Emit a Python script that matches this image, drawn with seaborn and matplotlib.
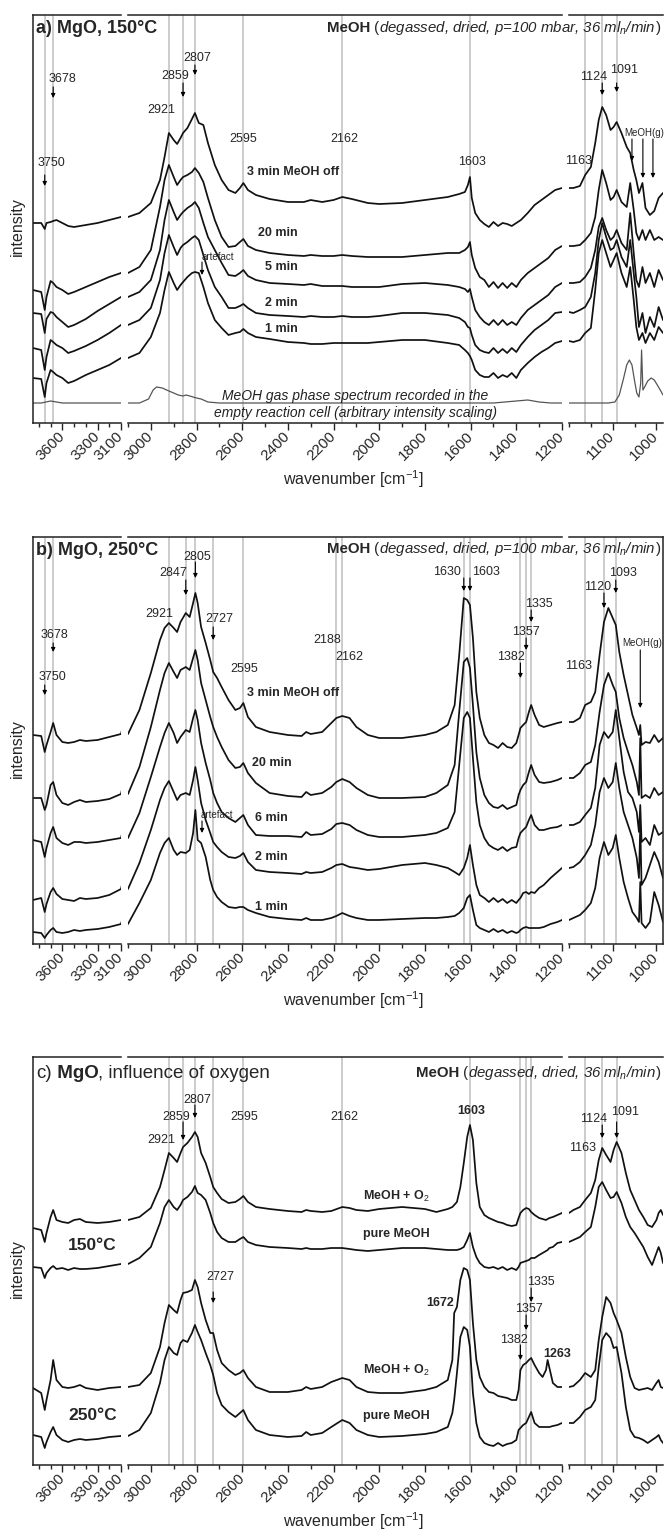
import matplotlib
matplotlib.use("Agg")
import matplotlib.pyplot as plt
import seaborn as sns
import pandas as pd

sns.set_style("ticks")
plt.rcParams['font.family'] = ['Liberation Sans', 'DejaVu Sans']
plt.rcParams['mathtext.fontset'] = 'custom'
plt.rcParams['mathtext.rm'] = 'Liberation Sans'
plt.rcParams['mathtext.it'] = 'Liberation Sans:italic'
plt.rcParams['mathtext.bf'] = 'Liberation Sans:bold'

# ---------------- data (intensity in arbitrary units) ----------------

# panel a: MgO 150 C
wn_a = ([3850, 3780, 3750, 3735, 3700, 3678, 3650, 3600, 3550, 3500, 3400, 3300, 3200, 3100]
        + [3050, 3000, 2960, 2940, 2921, 2900, 2885, 2870, 2859, 2840, 2820, 2807, 2790, 2770, 2750,
           2720, 2690, 2660, 2630, 2610, 2595, 2575, 2540, 2480, 2400, 2330, 2300, 2250, 2200]
        + [2162, 2120, 2050, 2000, 1900, 1800, 1700, 1650, 1625, 1612, 1603, 1595, 1580, 1560, 1540,
           1520, 1500, 1480, 1460, 1440, 1420, 1400, 1380, 1350, 1320, 1290, 1260, 1230, 1200]
        + [1190, 1175, 1163, 1150, 1140, 1132, 1124, 1115, 1105, 1098, 1091, 1080, 1068, 1060, 1052,
           1046, 1040, 1032, 1025, 1015, 1005, 995, 985])

a_off = ([200, 200, 194, 200, 201, 202, 203, 200, 197, 196, 198, 200, 203, 206]
         + [210, 220, 243, 266, 290, 283, 279, 285, 290, 295, 304, 310, 300, 298, 280,
            258, 243, 233, 230, 235, 240, 233, 228, 224, 221, 221, 223, 221, 223]
         + [226, 224, 220, 219, 220, 223, 226, 229, 231, 238, 246, 225, 210, 203, 199,
            196, 201, 197, 200, 199, 197, 200, 203, 210, 218, 223, 228, 233, 235]
         + [235, 237, 248, 256, 280, 303, 316, 308, 293, 296, 301, 290, 276, 270, 253,
            243, 230, 240, 215, 208, 212, 225, 230])
a_20 = ([133, 131, 113, 126, 142, 140, 136, 133, 129, 131, 136, 141, 146, 150]
        + [156, 173, 216, 243, 258, 246, 238, 243, 246, 248, 251, 255, 250, 241, 225,
           203, 186, 176, 177, 181, 184, 177, 173, 170, 168, 167, 168, 167, 167]
        + [168, 167, 166, 166, 166, 168, 170, 170, 173, 176, 181, 168, 155, 146, 143,
           136, 141, 135, 140, 135, 140, 136, 143, 150, 155, 160, 165, 173, 177]
        + [177, 178, 183, 190, 206, 233, 253, 240, 223, 226, 233, 221, 216, 240, 213,
           190, 183, 193, 183, 193, 183, 186, 183])
a_5 = ([110, 109, 90, 104, 111, 110, 106, 101, 96, 98, 104, 112, 119, 126]
       + [131, 143, 173, 203, 223, 211, 203, 208, 211, 215, 218, 221, 215, 200, 186,
          173, 160, 148, 147, 150, 153, 147, 143, 140, 139, 138, 139, 137, 137]
       + [137, 136, 136, 136, 139, 140, 138, 136, 134, 131, 134, 126, 113, 106, 101,
          98, 103, 98, 103, 98, 101, 98, 105, 113, 118, 123, 128, 136, 140]
       + [140, 141, 146, 155, 173, 196, 205, 193, 183, 186, 193, 180, 173, 210, 170,
          143, 136, 156, 140, 150, 136, 153, 143])
a_2 = ([75, 73, 53, 66, 83, 81, 78, 75, 70, 72, 77, 83, 90, 98]
       + [103, 115, 143, 170, 188, 176, 168, 175, 178, 181, 185, 187, 183, 168, 153,
          136, 126, 115, 115, 117, 119, 115, 110, 108, 107, 106, 107, 106, 106]
       + [107, 106, 106, 107, 110, 110, 108, 105, 101, 96, 95, 88, 78, 73, 71,
          70, 75, 70, 74, 70, 75, 71, 78, 86, 93, 98, 103, 110, 111]
       + [110, 113, 116, 126, 150, 183, 200, 186, 173, 175, 183, 166, 156, 183, 150,
          126, 96, 110, 90, 106, 96, 116, 103])
a_1 = ([45, 44, 26, 40, 53, 51, 48, 45, 40, 42, 48, 53, 58, 65]
       + [70, 86, 110, 133, 151, 140, 133, 138, 141, 146, 150, 151, 150, 136, 120,
          103, 95, 88, 90, 91, 94, 90, 86, 84, 81, 80, 79, 79, 80]
       + [80, 80, 80, 81, 83, 83, 80, 78, 73, 70, 67, 63, 53, 48, 46,
          46, 50, 45, 48, 46, 50, 45, 53, 60, 66, 71, 75, 80, 82]
       + [81, 83, 90, 95, 133, 170, 183, 170, 156, 163, 170, 150, 136, 156, 123,
          96, 83, 90, 80, 90, 83, 96, 90])

# MeOH gas phase spectrum (panel a)
wn_gas = [3850, 3780, 3700, 3600, 3500, 3400, 3300, 3200, 3100, 3050, 3010, 2990, 2975, 2950, 2921,
          2900, 2880, 2860, 2845, 2830, 2815, 2800, 2780, 2750, 2700, 2600, 2400, 2000, 1700, 1500,
          1450, 1400, 1350, 1300, 1250, 1200, 1150, 1110, 1095, 1085, 1075, 1068, 1062, 1056, 1050,
          1045, 1040, 1036, 1034, 1031, 1027, 1020, 1012, 1005, 998, 990, 985]
a_gas = [20, 20, 22, 20, 20, 20, 20, 20, 20, 20, 24, 33, 36, 35, 32,
         30, 28, 27, 28, 27, 26, 25, 24, 21, 20, 20, 20, 20, 20, 20,
         21, 22, 23, 21, 20, 20, 20, 20, 21, 28, 45, 58, 63, 58, 42,
         30, 26, 40, 73, 33, 36, 42, 45, 43, 38, 32, 28]

# panel b: MgO 250 C
wn_b = ([3850, 3780, 3750, 3735, 3700, 3678, 3650, 3600, 3550, 3500, 3450, 3400, 3300, 3200, 3100]
        + [3050, 3000, 2960, 2940, 2921, 2900, 2885, 2870, 2847, 2830, 2815, 2805, 2795, 2780, 2760,
           2740, 2727, 2710, 2690, 2660, 2630, 2610, 2595, 2575, 2540, 2480, 2400, 2340, 2320, 2300,
           2250, 2210, 2188]
        + [2162, 2130, 2100, 2050, 2000, 1900, 1800, 1750, 1700, 1670, 1650, 1630, 1615, 1603, 1590,
           1575, 1560, 1540, 1520, 1500, 1480, 1460, 1440, 1420, 1400, 1390, 1382, 1370, 1357, 1345,
           1335, 1320, 1300, 1280, 1250, 1220, 1200]
        + [1190, 1175, 1163, 1150, 1140, 1130, 1120, 1110, 1100, 1093, 1085, 1075, 1065, 1055, 1045,
           1040, 1037, 1034, 1025, 1015, 1005, 995, 985])

b_off = ([209, 208, 192, 199, 212, 221, 209, 202, 201, 202, 204, 203, 204, 207, 210]
         + [234, 271, 304, 316, 321, 316, 312, 322, 331, 327, 341, 351, 341, 317, 301,
            284, 272, 266, 257, 244, 234, 236, 241, 227, 217, 212, 209, 208, 212, 210,
            212, 221, 226]
         + [228, 226, 217, 209, 206, 206, 209, 212, 219, 239, 289, 346, 344, 339, 306,
            252, 226, 209, 201, 199, 196, 201, 197, 196, 201, 209, 216, 219, 222, 232,
            239, 229, 219, 217, 219, 221, 222]
         + [222, 226, 239, 242, 252, 289, 322, 336, 326, 319, 292, 269, 249, 229, 216,
            209, 219, 199, 202, 201, 209, 202, 206])
b_20 = ([146, 146, 134, 139, 159, 162, 149, 141, 139, 142, 144, 142, 143, 145, 150]
        + [177, 217, 254, 271, 281, 272, 266, 274, 277, 274, 286, 294, 284, 261, 244,
           227, 217, 207, 197, 184, 176, 177, 181, 171, 161, 151, 148, 147, 152, 149,
           151, 157, 162]
        + [165, 162, 156, 149, 146, 146, 147, 151, 159, 179, 232, 282, 286, 276, 239,
           192, 166, 149, 141, 137, 136, 139, 135, 137, 139, 149, 154, 159, 162, 172,
           179, 169, 162, 161, 162, 164, 166]
        + [166, 171, 179, 182, 199, 232, 259, 271, 259, 252, 226, 206, 192, 179, 162,
           149, 206, 146, 149, 146, 156, 149, 152])
b_6 = ([104, 102, 87, 96, 111, 117, 106, 101, 99, 102, 102, 101, 102, 104, 106]
       + [131, 167, 197, 211, 221, 211, 201, 207, 214, 212, 226, 234, 224, 201, 181,
          164, 151, 141, 132, 126, 122, 126, 129, 119, 109, 108, 108, 107, 112, 109,
          110, 115, 120]
       + [121, 119, 114, 109, 107, 107, 109, 111, 116, 132, 179, 226, 232, 226, 186,
          142, 119, 106, 99, 96, 94, 97, 93, 96, 97, 106, 111, 114, 117, 124,
          129, 119, 114, 114, 116, 117, 119]
       + [119, 122, 129, 136, 156, 199, 212, 206, 212, 234, 206, 172, 152, 146, 132,
          112, 139, 102, 106, 99, 119, 109, 112])
b_2 = ([44, 46, 32, 40, 52, 56, 50, 45, 44, 43, 46, 45, 46, 49, 55]
       + [81, 114, 144, 156, 163, 152, 144, 149, 151, 149, 164, 177, 164, 141, 124,
          111, 102, 97, 92, 87, 86, 88, 91, 82, 74, 72, 71, 70, 72, 71,
          72, 76, 79]
       + [80, 77, 76, 74, 75, 79, 81, 79, 76, 72, 69, 76, 86, 99, 79,
          59, 49, 46, 42, 46, 42, 45, 41, 44, 41, 44, 46, 51, 52, 50,
          52, 51, 56, 59, 66, 72, 76]
       + [77, 82, 89, 99, 119, 152, 166, 156, 162, 181, 156, 132, 119, 106, 86,
          66, 119, 59, 66, 79, 92, 82, 66])
b_1 = ([12, 11, 6, 9, 14, 16, 12, 11, 12, 14, 13, 14, 15, 17, 20]
       + [41, 64, 91, 101, 106, 94, 89, 92, 91, 94, 111, 134, 104, 101, 87,
          64, 54, 47, 42, 37, 36, 37, 37, 34, 31, 27, 25, 24, 26, 24,
          24, 26, 28]
       + [31, 28, 26, 24, 24, 25, 26, 26, 27, 28, 31, 36, 46, 49, 34,
          19, 16, 14, 12, 15, 12, 14, 11, 13, 11, 12, 14, 16, 17, 16,
          16, 16, 16, 17, 20, 22, 24]
       + [26, 29, 34, 41, 56, 86, 102, 89, 96, 109, 86, 62, 46, 32, 26,
          22, 62, 21, 16, 22, 52, 39, 22])

# panel c: influence of oxygen
wn_c = ([3850, 3780, 3750, 3735, 3700, 3678, 3650, 3600, 3550, 3500, 3450, 3400, 3300, 3200, 3100]
        + [3050, 3000, 2960, 2940, 2921, 2900, 2885, 2870, 2859, 2840, 2820, 2807, 2795, 2780, 2760,
           2740, 2727, 2710, 2690, 2660, 2630, 2610, 2595, 2575, 2540, 2480, 2400, 2340, 2320, 2300,
           2250, 2210]
        + [2162, 2130, 2100, 2050, 2000, 1900, 1800, 1750, 1700, 1680, 1672, 1660, 1645, 1630, 1615,
           1603, 1590, 1575, 1560, 1540, 1520, 1500, 1480, 1460, 1440, 1420, 1400, 1390, 1382, 1370,
           1357, 1345, 1335, 1320, 1300, 1285, 1270, 1263, 1255, 1240, 1220, 1200]
        + [1190, 1175, 1163, 1150, 1140, 1132, 1124, 1115, 1105, 1098, 1091, 1080, 1070, 1060, 1050,
           1040, 1030, 1020, 1010, 1000, 995, 990, 985])

c_150_o2 = ([237, 235, 223, 232, 248, 255, 245, 243, 242, 245, 246, 243, 242, 243, 245]
            + [248, 257, 278, 295, 312, 307, 303, 312, 318, 322, 328, 333, 328, 312, 302,
               288, 278, 272, 266, 262, 263, 266, 269, 263, 258, 256, 254, 253, 255, 254,
               253, 254]
            + [258, 257, 255, 254, 256, 258, 256, 253, 256, 258, 260, 263, 278, 302, 328,
               340, 325, 282, 258, 250, 247, 245, 243, 242, 240, 239, 240, 247, 252, 255,
               257, 256, 253, 250, 247, 246, 245, 246, 247, 248, 250, 252]
            + [255, 258, 265, 272, 285, 305, 317, 310, 303, 315, 323, 312, 292, 275, 265,
               255, 248, 240, 238, 245, 252, 255, 250])
c_150_pure = ([198, 197, 187, 192, 197, 199, 196, 197, 195, 197, 196, 196, 197, 199, 201]
              + [207, 218, 242, 258, 265, 258, 255, 260, 265, 268, 273, 279, 272, 270, 265,
                 252, 242, 233, 227, 223, 223, 226, 228, 223, 220, 218, 217, 216, 217, 216,
                 216, 217]
              + [217, 216, 215, 214, 215, 217, 217, 216, 215, 215, 215, 215, 216, 218, 225,
                 232, 218, 208, 202, 198, 197, 198, 196, 198, 195, 197, 195, 198, 202, 203,
                 204, 205, 207, 207, 210, 212, 214, 215, 217, 218, 222, 223]
              + [225, 228, 233, 238, 258, 278, 283, 275, 267, 268, 273, 262, 248, 238, 232,
                 225, 218, 208, 200, 212, 218, 212, 202])
c_250_o2 = ([77, 72, 55, 65, 85, 105, 85, 78, 77, 78, 80, 77, 75, 77, 78]
            + [80, 92, 118, 142, 160, 155, 152, 165, 172, 173, 175, 185, 178, 162, 145,
               132, 132, 115, 102, 95, 90, 92, 95, 87, 78, 73, 73, 75, 78, 76,
               78, 83]
            + [87, 85, 78, 73, 72, 72, 75, 78, 85, 105, 152, 158, 185, 197, 195,
               185, 142, 105, 88, 78, 73, 72, 69, 68, 67, 65, 65, 75, 95, 100,
               102, 105, 107, 100, 92, 88, 95, 105, 97, 82, 78, 78]
            + [79, 85, 92, 88, 95, 125, 148, 168, 162, 152, 145, 132, 108, 88, 77,
               75, 76, 77, 75, 82, 85, 78, 77])
c_250_pure = ([30, 28, 17, 23, 33, 38, 30, 25, 23, 25, 26, 25, 26, 28, 29]
              + [35, 52, 82, 105, 118, 112, 110, 122, 125, 123, 132, 140, 133, 125, 112,
                 100, 90, 72, 60, 53, 48, 52, 55, 45, 35, 30, 28, 29, 33, 30,
                 32, 38]
              + [45, 42, 35, 30, 28, 29, 31, 33, 38, 52, 65, 92, 128, 138, 135,
                 118, 72, 42, 28, 22, 20, 19, 22, 19, 21, 22, 25, 35, 37, 40,
                 42, 48, 53, 42, 38, 38, 38, 38, 38, 39, 40, 42]
              + [42, 48, 55, 58, 65, 98, 125, 132, 127, 117, 118, 92, 58, 35, 28,
                 27, 25, 22, 25, 28, 30, 25, 22])

# ---------------- layout ----------------
W, H = 665, 1529
SEG_PX = [(33, 121), (128, 562), (569, 663)]
SEG_WN = [(3850, 3100), (3100, 1200), (1200, 985)]
MAJOR = [[3600, 3300, 3100],
         [3000, 2800, 2600, 2400, 2200, 2000, 1800, 1600, 1400, 1200],
         [1100, 1000]]
MINOR = [[3800, 3700, 3500, 3400, 3200],
         [3100, 2900, 2700, 2500, 2300, 2100, 1900, 1700, 1500, 1300],
         [1200, 1150, 1050]]

fig = plt.figure(figsize=(W / 100, H / 100), dpi=100)


def to_long(wn, curves):
    rows = []
    for name, vals in curves.items():
        assert len(vals) == len(wn), name
        rows += [(w, v, name) for w, v in zip(wn, vals)]
    return pd.DataFrame(rows, columns=['wn', 'intensity', 'spectrum'])


def pick(axes, w):
    if w > 3100:
        return axes[0]
    if w >= 1200:
        return axes[1]
    return axes[2]


def make_panel(top, bottom):
    axes = []
    for (x0, x1) in SEG_PX:
        ax = fig.add_axes([x0 / W, 1 - bottom / H, (x1 - x0) / W, (bottom - top) / H])
        ax.patch.set_alpha(0)
        axes.append(ax)
    return axes


def finish_panel(axes, top, bottom, right_spine=False):
    for i, ax in enumerate(axes):
        ax.set_xlim(*SEG_WN[i])
        ax.set_ylim(0, bottom - top)
        ax.set_xlabel('')
        ax.set_ylabel('')
        ax.set_yticks([])
        ax.spines['left'].set_visible(i == 0)
        ax.spines['right'].set_visible(i == 2 and right_spine)
        for s in ax.spines.values():
            s.set_linewidth(1.1)
            s.set_color('#222222')
        ax.set_xticks(MAJOR[i])
        ax.set_xticks(MINOR[i], minor=True)
        ax.set_xticklabels([str(t) for t in MAJOR[i]], rotation=45, ha='right',
                           va='center', rotation_mode='anchor', fontsize=11)
        ax.tick_params(axis='x', which='major', length=5, width=1, direction='out', pad=3)
        ax.tick_params(axis='x', which='minor', length=3, width=1, direction='out')
    ftext(17, (top + bottom) / 2 + 8, 'intensity', rotation=90, ha='center', va='center', fontsize=11.5)
    ftext(353, bottom + 56, 'wavenumber [cm$^{-1}$]', ha='center', va='center', fontsize=11.5)


def draw(axes, df, lines, color='#111111', lw=1.25):
    for ax in axes:
        sns.lineplot(data=df, x='wn', y='intensity', units='spectrum', estimator=None,
                     sort=False, color=color, lw=lw, ax=ax, legend=False)
    for w in lines:
        pick(axes, w).axvline(w, color='#c4c4c4', lw=1.2, zorder=0)


def label(axes, w, y, s, size=9, **kw):
    kw.setdefault('ha', 'center')
    pick(axes, w).text(w, y, s, va='center', fontsize=size, **kw)


def arrow(axes, w, y0, y1):
    pick(axes, w).annotate('', xy=(w, y1), xytext=(w, y0),
                           arrowprops=dict(arrowstyle='-|>', lw=0.8, color='k',
                                           mutation_scale=6, shrinkA=0, shrinkB=0))


def ftext(px, py, s, **kw):
    fig.text(px / W, 1 - py / H, s, **kw)


def rich(px, py, parts, size, align='left'):
    # several styles on one line, placed side by side
    r = fig.canvas.get_renderer()
    objs = [fig.text(0, 1 - py / H, s, fontsize=size, va='baseline', **kw) for s, kw in parts]
    widths = [o.get_window_extent(renderer=r).width for o in objs]
    x = px - sum(widths) if align == 'right' else px
    for o, wd in zip(objs, widths):
        o.set_x(x / W)
        x += wd


B = dict(fontweight='bold')
I = dict(fontstyle='italic')
N = dict()

# ---------------- panel a ----------------
top, bottom = 15, 423
A = make_panel(top, bottom)
draw(A, to_long(wn_a, {'3 min MeOH off': a_off, '20 min': a_20, '5 min': a_5,
                       '2 min': a_2, '1 min': a_1}),
     [3750, 3678, 2921, 2859, 2807, 2595, 2162, 1603, 1163, 1124, 1091])
for ax in A:
    sns.lineplot(x=wn_gas, y=a_gas, sort=False, estimator=None, color='#555555', lw=0.9, ax=ax)
finish_panel(A, top, bottom)

label(A, 3603, 344, '3678'); arrow(A, 3678, 336, 325)
label(A, 3690, 260, '3750'); arrow(A, 3750, 248, 237)
label(A, 2955, 313, '2921')
label(A, 2894, 347, '2859'); arrow(A, 2859, 340, 326)
label(A, 2798, 365, '2807'); arrow(A, 2807, 358, 348)
label(A, 2596, 284, '2595')
label(A, 2154, 284, '2162')
label(A, 1594, 261, '1603')
label(A, 1179, 262, '1163')
label(A, 1143, 346, '1124'); arrow(A, 1124, 340, 328)
label(A, 1074, 353, '1091'); arrow(A, 1091, 340, 331)
label(A, 1028, 290, 'MeOH(g)', size=7)
arrow(A, 1056, 284, 262); arrow(A, 1031, 284, 245); arrow(A, 1008, 284, 245)
for s, w, y in [('3 min MeOH off', 2579, 251), ('20 min', 2531, 190), ('5 min', 2500, 156),
                ('2 min', 2500, 120), ('1 min', 2500, 94)]:
    label(A, w, y, s, ha='left', fontweight='bold')
label(A, 2706, 166, 'artefact', size=7); arrow(A, 2776, 161, 148)
label(A, 2106, 27, 'MeOH gas phase spectrum recorded in the', size=10, fontstyle='italic', color='#222222')
label(A, 2106, 10, 'empty reaction cell (arbitrary intensity scaling)', size=10, fontstyle='italic', color='#222222')
rich(36, 33, [('a) MgO, 150°C', B)], 13)
rich(661, 32, [('MeOH', B), (' (', N), ('degassed, dried, p=100 mbar, 36 ml$_n$/min', I), (')', N)],
     10.8, align='right')

# ---------------- panel b ----------------
top, bottom = 537, 944
Bx = make_panel(top, bottom)
draw(Bx, to_long(wn_b, {'3 min MeOH off': b_off, '20 min': b_20, '6 min': b_6,
                        '2 min': b_2, '1 min': b_1}),
     [3750, 3678, 2921, 2847, 2805, 2727, 2595, 2188, 2162, 1630, 1603, 1382, 1357, 1335,
      1163, 1120, 1093])
finish_panel(Bx, top, bottom, right_spine=True)

label(Bx, 3688, 267, '3750'); arrow(Bx, 3750, 259, 249)
label(Bx, 3671, 309, '3678'); arrow(Bx, 3678, 301, 292)
label(Bx, 2964, 330, '2921')
label(Bx, 2903, 371, '2847'); arrow(Bx, 2847, 364, 349)
label(Bx, 2798, 387, '2805'); arrow(Bx, 2805, 382, 366)
label(Bx, 2702, 325, '2727'); arrow(Bx, 2727, 317, 304)
label(Bx, 2592, 275, '2595')
label(Bx, 2229, 304, '2188')
label(Bx, 2132, 287, '2162')
label(Bx, 1703, 372, '1630'); arrow(Bx, 1630, 366, 353)
label(Bx, 1533, 372, '1603'); arrow(Bx, 1603, 366, 353)
label(Bx, 1300, 340, '1335'); arrow(Bx, 1335, 334, 322)
label(Bx, 1358, 312, '1357'); arrow(Bx, 1357, 306, 294)
label(Bx, 1423, 287, '1382'); arrow(Bx, 1382, 281, 266)
label(Bx, 1177, 278, '1163')
label(Bx, 1134, 357, '1120'); arrow(Bx, 1120, 351, 336)
label(Bx, 1076, 371, '1093'); arrow(Bx, 1093, 364, 351)
label(Bx, 1032, 301, 'MeOH(g)', size=7); arrow(Bx, 1037, 294, 236)
for s, w, y in [('3 min MeOH off', 2579, 251), ('20 min', 2557, 181), ('6 min', 2544, 126),
                ('2 min', 2544, 87), ('1 min', 2544, 37)]:
    label(Bx, w, y, s, ha='left', fontweight='bold')
label(Bx, 2710, 129, 'artefact', size=7); arrow(Bx, 2776, 123, 111)
rich(36, 555, [('b) MgO, 250°C', B)], 13)
rich(661, 553, [('MeOH', B), (' (', N), ('degassed, dried, p=100 mbar, 36 ml$_n$/min', I), (')', N)],
     10.8, align='right')

# ---------------- panel c ----------------
top, bottom = 1057, 1465
C = make_panel(top, bottom)
draw(C, to_long(wn_c, {'150 MeOH + O2': c_150_o2, '150 pure MeOH': c_150_pure,
                       '250 MeOH + O2': c_250_o2, '250 pure MeOH': c_250_pure}),
     [2921, 2859, 2807, 2727, 2595, 2162, 1603, 1382, 1357, 1335, 1163, 1124, 1091])
finish_panel(C, top, bottom)

label(C, 2956, 325, '2921')
label(C, 2890, 348, '2859'); arrow(C, 2859, 343, 325)
label(C, 2798, 365, '2807'); arrow(C, 2807, 360, 347)
label(C, 2592, 348, '2595')
label(C, 2697, 188, '2727'); arrow(C, 2727, 173, 162)
label(C, 2154, 348, '2162')
label(C, 1598, 354, '1603', fontweight='bold')
label(C, 1143, 346, '1124'); arrow(C, 1124, 340, 327)
label(C, 1072, 353, '1091'); arrow(C, 1091, 343, 327)
label(C, 1170, 317, '1163')
label(C, 1292, 183, '1335'); arrow(C, 1335, 177, 163)
label(C, 1344, 156, '1357'); arrow(C, 1357, 150, 135)
label(C, 1410, 125, '1382'); arrow(C, 1382, 120, 105)
label(C, 1734, 162, '1672', fontweight='bold')
label(C, 1222, 111, '1263', fontweight='bold')
for s, y in [('MeOH + O$_2$', 269), ('pure MeOH', 231), ('MeOH + O$_2$', 95), ('pure MeOH', 49)]:
    label(C, 2071, y, s, ha='left', fontweight='bold')
label(C, 3552, 220, '150°C', size=12.5, ha='left', fontweight='bold')
label(C, 3552, 49, '250°C', size=12.5, ha='left', fontweight='bold')
rich(36, 1078, [('c)', N), (' MgO', B), (', influence of oxygen', N)], 13.5)
rich(661, 1077, [('MeOH', B), (' (', N), ('degassed, dried, 36 ml$_n$/min', I), (')', N)],
     10.8, align='right')

fig.savefig('out.png', dpi=100)
